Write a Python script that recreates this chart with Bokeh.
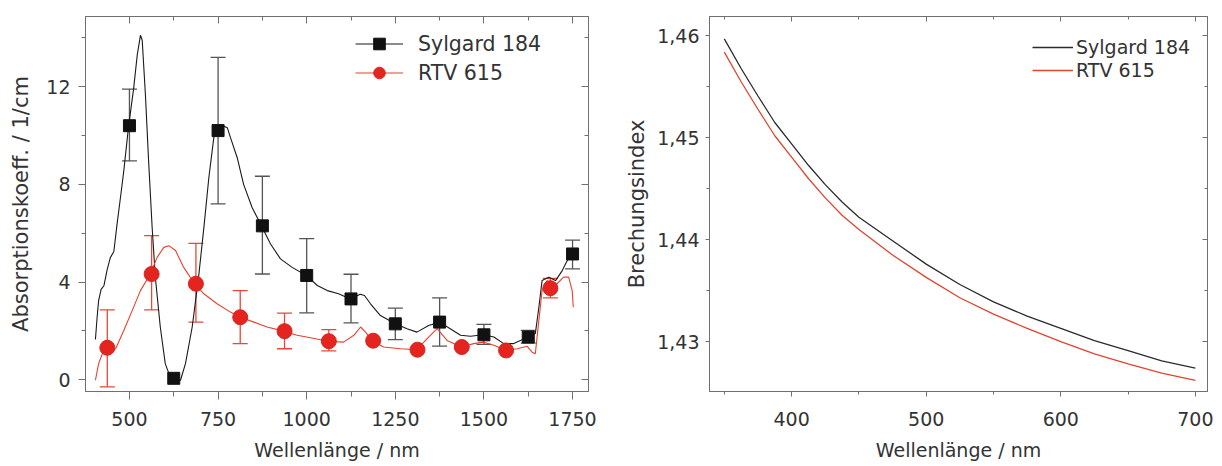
import numpy as np
from bokeh.plotting import figure
from bokeh.layouts import row
from bokeh.models import (ColumnDataSource, Whisker, TeeHead, LinearAxis, SingleIntervalTicker,
                          Range1d, Legend, LegendItem, CustomJSTickFormatter)
from bokeh.embed import file_html
from bokeh.resources import INLINE

nan = float("nan")

# ---------------- Left panel: absorption coefficient ----------------
syl_curve_nm = [404, 409, 413, 420, 428, 437, 446, 456, 465, 475, 484, 497, 512, 522, 531, 536,
                545, 554, 564, 573, 587, 601, 615, 630, 644, 658, 677, 695, 710, 724, 738, 747,
                761, 776, 785, 804, 822, 846, 872, 898, 926, 959, 999, 1030, 1058, 1090, 1123,
                1151, 1163, 1180, 1208, 1250, 1283, 1311, 1344, 1375, 1405, 1434, 1462, 1498,
                1528, 1556, 1584, 1625, 1645, 1655, 1664, 1683, 1702, 1721, 1735, 1750]
syl_curve_val = [1.65, 2.6, 3.24, 3.7, 3.85, 4.5, 5.0, 5.25, 6.37, 7.5, 8.55, 10.3, 11.95, 13.3,
                 14.1, 13.9, 11.68, 8.96, 6.24, 4.2, 2.16, 0.66, 0.11, -0.09, -0.02, 0.66, 2.16,
                 4.2, 6.24, 8.28, 9.91, 10.25, 10.42, 10.32, 9.91, 9.09, 8.0, 7.05, 6.31, 5.56,
                 4.95, 4.6, 4.27, 3.86, 3.65, 3.52, 3.31, 3.5, 3.45, 3.11, 2.63, 2.29, 2.09, 1.95,
                 2.22, 2.36, 2.09, 1.82, 1.78, 1.84, 1.75, 1.48, 1.48, 1.75, 1.89, 2.97, 4.06,
                 4.2, 4.06, 4.47, 4.88, 5.15]

rtv_curve_nm = [404, 413, 427, 437, 450, 461, 484, 508, 531, 559, 578, 597, 611, 630, 653, 684,
                710, 747, 785, 813, 851, 888, 935, 973, 1011, 1060, 1104, 1133, 1152, 1166, 1185,
                1217, 1265, 1310, 1344, 1368, 1396, 1436, 1471, 1499, 1528, 1563, 1594, 1622,
                1636, 1645, 1655, 1664, 1678, 1688, 1706, 1725, 1739, 1749, 1752]
rtv_curve_val = [-0.02, 0.66, 1.2, 1.32, 1.25, 1.27, 2.02, 2.84, 3.65, 4.33, 5.01, 5.42, 5.49,
                 5.29, 4.6, 3.93, 3.52, 3.11, 2.77, 2.56, 2.36, 2.16, 1.99, 1.82, 1.72, 1.58,
                 1.54, 1.82, 2.16, 1.95, 1.6, 1.34, 1.27, 1.23, 1.75, 2.09, 1.61, 1.34, 1.48,
                 1.54, 1.41, 1.2, 1.27, 1.37, 1.13, 1.07, 2.43, 3.65, 4.06, 3.85, 3.93, 4.2, 4.2,
                 3.65, 2.97]

syl_pts_nm = [500, 625, 750, 875, 1000, 1125, 1250, 1375, 1500, 1625, 1750]
syl_pts_val = [10.4, 0.06, 10.2, 6.3, 4.27, 3.31, 2.29, 2.36, 1.84, 1.75, 5.15]
syl_err_lo = [8.96, nan, 7.2, 4.33, 2.74, 2.33, 1.64, 1.38, 1.45, 1.5, 4.54]
syl_err_hi = [11.9, nan, 13.2, 8.33, 5.78, 4.32, 2.93, 3.35, 2.27, 2.02, 5.72]

rtv_pts_nm = [437.5, 562.5, 687.5, 812.5, 937.5, 1062.5, 1187.5, 1312.5, 1437.5, 1562.5, 1687.5]
rtv_pts_val = [1.31, 4.33, 3.93, 2.56, 1.99, 1.58, 1.6, 1.23, 1.34, 1.2, 3.75]
rtv_err_lo = [-0.29, 2.86, 2.36, 1.48, 1.27, 1.18, nan, nan, nan, nan, 3.35]
rtv_err_hi = [2.86, 5.9, 5.58, 3.65, 2.73, 2.05, nan, nan, nan, nan, 4.15]

# ---------------- Right panel: refractive index ----------------
ri_nm = [350, 362.5, 375, 387.5, 400, 412.5, 425, 437.5, 450, 475, 500, 525, 550, 575, 600,
         625, 650, 675, 700]
ri_syl = [1.4597, 1.4568, 1.4541, 1.4515, 1.4494, 1.4473, 1.4454, 1.4437, 1.4422, 1.4399,
          1.4376, 1.4356, 1.4339, 1.4325, 1.4313, 1.4301, 1.4291, 1.4281, 1.4274]
ri_rtv = [1.4584, 1.4555, 1.4528, 1.4502, 1.4481, 1.4460, 1.4441, 1.4424, 1.4410, 1.4385,
          1.4363, 1.4343, 1.4327, 1.4313, 1.4300, 1.4288, 1.4278, 1.4269, 1.4262]

FONT = "DejaVu Sans"
TXT = "#333333"
AX = "#707070"
BLACK = "#1a1a1a"
RED = "#e3241f"
REDLINE = "#e8412c"


def style_main_axes(p, xt, yt, x_out, x_std, x_lstd, y_out, y_std, y_lstd, yfmt=None):
    xa, ya = p.xaxis[0], p.yaxis[0]
    xa.ticker = xt
    ya.ticker = yt
    if yfmt is not None:
        ya.formatter = yfmt
    for ax in (xa, ya):
        ax.axis_line_color = AX
        ax.major_tick_line_color = AX
        ax.minor_tick_line_color = AX
        ax.major_tick_in = 0
        ax.minor_tick_in = 0
        ax.major_label_text_font = FONT
        ax.major_label_text_font_size = "19px"
        ax.major_label_text_color = TXT
        ax.axis_label_text_font = FONT
        ax.axis_label_text_font_style = "normal"
        ax.axis_label_text_color = TXT
    xa.major_tick_out = x_out
    xa.minor_tick_out = max(x_out - 3, 3)
    xa.major_label_standoff = x_std
    xa.axis_label_standoff = x_lstd
    xa.axis_label_text_font_size = "19px"
    ya.major_tick_out = y_out
    ya.minor_tick_out = max(y_out - 3, 3)
    ya.major_label_standoff = y_std
    ya.axis_label_standoff = y_lstd
    ya.axis_label_text_font_size = "21px"


def mirror_axes(p, xt, yt, tin):
    empty = CustomJSTickFormatter(code="return ''")
    for place, t in (("above", xt), ("right", yt)):
        ax = LinearAxis(ticker=t, formatter=empty, major_label_standoff=0,
                        major_tick_in=tin, major_tick_out=0,
                        minor_tick_in=max(tin - 3, 3), minor_tick_out=0,
                        axis_line_color=AX, major_tick_line_color=AX,
                        minor_tick_line_color=AX)
        p.add_layout(ax, place)


# ---------------- Left figure ----------------
p1 = figure(width=600, height=466, x_range=Range1d(376, 1795), y_range=Range1d(-0.48, 14.87),
            output_backend="svg", toolbar_location=None,
            min_border_left=85, min_border_right=12, min_border_top=15, min_border_bottom=75,
            x_axis_label="Wellenlänge / nm", y_axis_label="Absorptionskoeff. / 1/cm")
p1.grid.visible = False
p1.outline_line_color = AX
xt1 = SingleIntervalTicker(interval=250, num_minor_ticks=2)
yt1 = SingleIntervalTicker(interval=4, num_minor_ticks=2)
style_main_axes(p1, xt1, yt1, x_out=8, x_std=12, x_lstd=10, y_out=7, y_std=8, y_lstd=10)
mirror_axes(p1, SingleIntervalTicker(interval=250, num_minor_ticks=2),
            SingleIntervalTicker(interval=4, num_minor_ticks=2), 7)

syl_line = p1.line(syl_curve_nm, syl_curve_val, line_color=BLACK, line_width=1.1)
rtv_line = p1.line(rtv_curve_nm, rtv_curve_val, line_color=REDLINE, line_width=1.1)

syl_src = ColumnDataSource(dict(x=syl_pts_nm, y=syl_pts_val,
                                lo=np.array(syl_err_lo), hi=np.array(syl_err_hi)))
rtv_src = ColumnDataSource(dict(x=rtv_pts_nm, y=rtv_pts_val,
                                lo=np.array(rtv_err_lo), hi=np.array(rtv_err_hi)))

for src, col in ((syl_src, "#555555"), (rtv_src, "#e34a3a")):
    w = Whisker(source=src, base="x", lower="lo", upper="hi", dimension="height",
                line_color=col, line_width=1.3,
                upper_head=TeeHead(size=15, line_color=col, line_width=1.3),
                lower_head=TeeHead(size=15, line_color=col, line_width=1.3))
    p1.add_layout(w)

syl_sc = p1.scatter("x", "y", source=syl_src, marker="square", size=12,
                    fill_color="#111111", line_color="#111111")
rtv_sc = p1.scatter("x", "y", source=rtv_src, marker="circle", size=15,
                    fill_color=RED, line_color="#d8261f")

leg1 = Legend(items=[LegendItem(label="Sylgard 184", renderers=[syl_line, syl_sc]),
                     LegendItem(label="RTV 615", renderers=[rtv_line, rtv_sc])],
              location=(270, 304), label_text_font=FONT, label_text_font_size="20.5px",
              label_text_color=TXT, glyph_width=48, glyph_height=29, label_height=29,
              spacing=0, padding=0, margin=0, label_standoff=15,
              border_line_color=None, background_fill_alpha=0)
p1.add_layout(leg1)

# ---------------- Right figure ----------------
p2 = figure(width=621, height=466, x_range=Range1d(339, 709), y_range=Range1d(1.4251, 1.4619),
            output_backend="svg", toolbar_location=None,
            min_border_left=109, min_border_right=14, min_border_top=16, min_border_bottom=75,
            x_axis_label="Wellenlänge / nm", y_axis_label="Brechungsindex")
p2.grid.visible = False
p2.outline_line_color = AX
xt2 = SingleIntervalTicker(interval=100, num_minor_ticks=2)
yt2 = SingleIntervalTicker(interval=0.01, num_minor_ticks=2)
comma = CustomJSTickFormatter(code="return tick.toFixed(2).replace('.', ',');")
style_main_axes(p2, xt2, yt2, x_out=5, x_std=15, x_lstd=10, y_out=4, y_std=6, y_lstd=5,
                yfmt=comma)
mirror_axes(p2, SingleIntervalTicker(interval=100, num_minor_ticks=2),
            SingleIntervalTicker(interval=0.01, num_minor_ticks=2), 5)

ri_syl_line = p2.line(ri_nm, ri_syl, line_color="#2b2b2b", line_width=1.3)
ri_rtv_line = p2.line(ri_nm, ri_rtv, line_color="#e0452e", line_width=1.3)

for lab, rend, vy in (("Sylgard 184", ri_syl_line, 332), ("RTV 615", ri_rtv_line, 309)):
    lg = Legend(items=[LegendItem(label=lab, renderers=[rend])], location=(323, vy),
                label_text_font=FONT, label_text_font_size="19px", label_text_color=TXT,
                glyph_width=41, glyph_height=24, label_height=24, spacing=0, padding=0,
                margin=0, label_standoff=3, border_line_color=None, background_fill_alpha=0)
    p2.add_layout(lg)

layout = row(p1, p2)
open("out.html", "w").write(file_html(layout, INLINE))
